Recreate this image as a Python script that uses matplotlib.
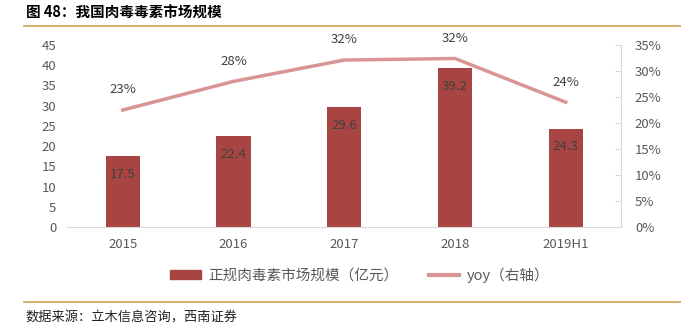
import matplotlib
matplotlib.use('agg')
import matplotlib.pyplot as plt
from matplotlib.lines import Line2D
from matplotlib.patches import Patch

plt.rcParams['font.family'] = ['Noto Sans CJK SC', 'DejaVu Sans']

## data
years = ['2015', '2016', '2017', '2018', '2019H1']
market = [17.5, 22.4, 29.6, 39.2, 24.3]
yoy = [22.5, 28.0, 32.1, 32.4, 24.0]
yoy_labels = ['23%', '28%', '32%', '32%', '24%']

bar_color = '#A84542'
line_color = '#D99594'
tick_color = '#595959'
text_color = '#404040'
grid_gray = '#D9D9D9'

fig = plt.figure(figsize=(6.81, 3.33), dpi=100)
ax = fig.add_axes([0.099, 0.318, 0.813, 0.547])
ax2 = ax.twinx()

x = list(range(len(years)))
ax.bar(x, market, width=0.31, color=bar_color, zorder=2)
for xi, v in zip(x, market):
    ax.annotate('{:.1f}'.format(v), (xi, v), xytext=(0, -13), textcoords='offset points',
                ha='center', va='center', fontsize=9.5, color=text_color)

ax2.plot(x, yoy, color=line_color, lw=2.5, zorder=3)
for xi, v, lab in zip(x, yoy, yoy_labels):
    ax2.annotate(lab, (xi, v), xytext=(0, 14.5), textcoords='offset points',
                 ha='center', va='center', fontsize=9.5, color=text_color)

ax.set_xlim(-0.5, len(years) - 0.5)
ax.set_ylim(0, 45)
ax.set_yticks(range(0, 46, 5))
ax2.set_ylim(0, 35)
ax2.set_yticks(range(0, 36, 5))
ax2.set_yticklabels(['{}%'.format(t) for t in range(0, 36, 5)])
ax.set_xticks(x)
ax.set_xticklabels(years)

for a in (ax, ax2):
    for s in ('top', 'left'):
        a.spines[s].set_visible(False)
    a.spines['bottom'].set_color(grid_gray)
    a.spines['right'].set_color(grid_gray)
ax.spines['right'].set_visible(False)
ax2.spines['bottom'].set_visible(False)

ax.tick_params(axis='y', length=0, labelsize=9.5, labelcolor=tick_color, pad=8)
ax.tick_params(axis='x', length=0, labelsize=9.5, labelcolor=tick_color, pad=8)
ax2.tick_params(axis='y', direction='in', length=4, color=grid_gray, labelsize=9.5,
                labelcolor=tick_color, pad=10)

handles = [Patch(color=bar_color), Line2D([0], [0], color=line_color, lw=3)]
fig.legend(handles, ['正规肉毒素市场规模（亿元）', 'yoy（右轴）'], loc='center left',
           bbox_to_anchor=(170 / 681, 0.174), ncol=2, frameon=False, fontsize=10.5,
           labelcolor=tick_color, handlelength=2.1, handleheight=0.5, columnspacing=2.1,
           handletextpad=0.5, borderpad=0, borderaxespad=0)

## title and source
fig.text(0.038, 0.961, '图 48：我国肉毒毒素市场规模', fontsize=10.5, fontweight='bold',
         va='center', ha='left', color='black')
fig.add_artist(Line2D([0.035, 1.0], [0.922, 0.922], color='#D4A04C', lw=1.2))
fig.add_artist(Line2D([0.035, 1.0], [0.094, 0.094], color='#D4A04C', lw=1.2))
fig.text(0.038, 0.045, '数据来源：立木信息咨询，西南证券', fontsize=9.5, style='italic',
         va='center', ha='left', color='#222222')

fig.savefig('out.png', dpi=100)
